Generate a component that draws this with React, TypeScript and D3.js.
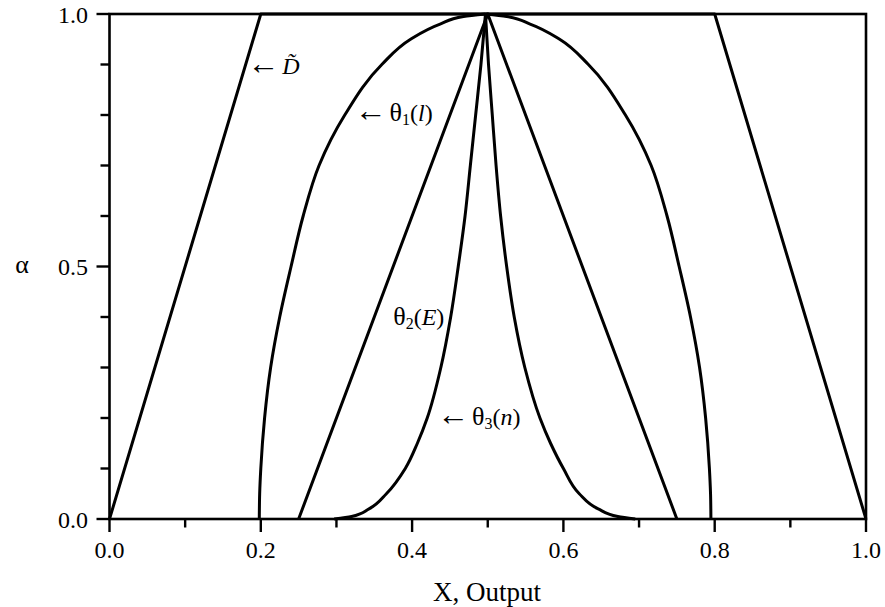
import * as d3 from "d3";

// membership levels (alpha) and output values
const dTildeX = [0, 0.2, 0.8, 1.0];
const dTildeA = [0, 1, 1, 0];

const levels = [0, 0.05, 0.1, 0.2, 0.3, 0.4, 0.5, 0.6, 0.7, 0.8, 0.9, 0.95, 0.98, 0.995, 1];
const theta1LeftX = [0.198, 0.1985, 0.2, 0.205, 0.213, 0.225, 0.24, 0.256, 0.277, 0.311, 0.36, 0.398, 0.437, 0.468, 0.497];
const theta1RightX = [0.795, 0.7945, 0.793, 0.788, 0.78, 0.768, 0.753, 0.737, 0.716, 0.682, 0.633, 0.595, 0.556, 0.525, 0.497];

const theta2X = [0.25, 0.5, 0.75];
const theta2A = [0, 1, 0];

const theta3A = [0, 0.005, 0.02, 0.05, 0.1, 0.15, 0.2, 0.3, 0.4, 0.5, 0.6, 0.7, 0.8, 0.9, 1];
const theta3LeftX = [0.297, 0.32, 0.343, 0.366, 0.391, 0.407, 0.42, 0.438, 0.451, 0.461, 0.47, 0.477, 0.484, 0.491, 0.497];
const theta3RightX = [0.695, 0.672, 0.646, 0.621, 0.6, 0.583, 0.569, 0.549, 0.535, 0.525, 0.517, 0.511, 0.506, 0.501, 0.497];

const xMajor = [0, 0.2, 0.4, 0.6, 0.8, 1.0];
const xMinor = [0.1, 0.3, 0.5, 0.7, 0.9];
const aMajor = [0, 0.5, 1.0];
const aMinor = [0.1, 0.2, 0.3, 0.4, 0.6, 0.7, 0.8, 0.9];

const W = 885;
const H = 607;
const FONT = "Liberation Serif";

const zip = (xs: number[], as: number[]) => xs.map((x, i) => [x, as[i]] as [number, number]);

export default function App() {
  const x = d3.scaleLinear().domain([0, 1]).range([109.5, 866]);
  const y = d3.scaleLinear().domain([0, 1]).range([519, 14]);

  const straight = d3.line<[number, number]>().x((d) => x(d[0])).y((d) => y(d[1]));
  const smooth = d3
    .line<[number, number]>()
    .x((d) => x(d[0]))
    .y((d) => y(d[1]))
    .curve(d3.curveMonotoneY);

  const curves = [
    straight(zip(dTildeX, dTildeA)),
    smooth(zip(theta1LeftX, levels)),
    smooth(zip(theta1RightX, levels)),
    straight(zip(theta2X, theta2A)),
    smooth(zip(theta3LeftX, theta3A)),
    smooth(zip(theta3RightX, theta3A)),
  ];

  const subSize = 16;
  const subDy = 4;
  const arrowSize = 32;
  const thetaSize = 26;

  return (
    <svg width={W} height={H} style={{ position: "absolute", left: 0, top: 0, background: "#fff" }}>
      <g fill="none" stroke="#000" strokeWidth={3} strokeLinejoin="round">
        {curves.map((d, i) => (
          <path key={i} d={d || ""} />
        ))}
      </g>

      {/* frame */}
      <rect x={x(0)} y={y(1)} width={x(1) - x(0)} height={y(0) - y(1)} fill="none" stroke="#000" strokeWidth={2.6} />

      {/* ticks */}
      <g stroke="#000" strokeWidth={2.4}>
        {xMajor.map((t) => (
          <line key={"xM" + t} x1={x(t)} x2={x(t)} y1={y(0)} y2={y(0) + 13} />
        ))}
        {xMinor.map((t) => (
          <line key={"xm" + t} x1={x(t)} x2={x(t)} y1={y(0)} y2={y(0) + 8.5} />
        ))}
        {aMajor.map((t) => (
          <line key={"aM" + t} x1={x(0)} x2={x(0) - 13} y1={y(t)} y2={y(t)} />
        ))}
        {aMinor.map((t) => (
          <line key={"am" + t} x1={x(0)} x2={x(0) - 9} y1={y(t)} y2={y(t)} />
        ))}
      </g>

      <g style={{ fontFamily: FONT }} fontSize={24} fill="#000">
        {xMajor.map((t) => (
          <text key={"xl" + t} x={x(t)} y={558} textAnchor="middle">
            {t.toFixed(1)}
          </text>
        ))}
        {aMajor.map((t) => (
          <text key={"al" + t} x={88} y={y(t) + 8.5} textAnchor="end">
            {t.toFixed(1)}
          </text>
        ))}
        <text x={487} y={601} textAnchor="middle" fontSize={27}>
          X, Output
        </text>
        <text x={22} y={273} textAnchor="middle" fontSize={26}>
          α
        </text>
      </g>

      {/* curve annotations */}
      <g style={{ fontFamily: FONT }} fontSize={24} fill="#000">
        <text x={x(0.182)} y={y(0.881)}>
          <tspan fontSize={arrowSize}>←</tspan>
          <tspan dx={3} fontStyle="italic">{"D\u0303"}</tspan>
        </text>
        <text x={x(0.324)} y={y(0.788)}>
          <tspan fontSize={arrowSize}>←</tspan>
          <tspan dx={3} fontSize={thetaSize}>θ</tspan>
          <tspan fontSize={subSize} dy={subDy}>1</tspan>
          <tspan dy={-subDy}>(</tspan>
          <tspan fontStyle="italic">l</tspan>
          <tspan>)</tspan>
        </text>
        <text x={x(0.375)} y={y(0.384)}>
          <tspan fontSize={thetaSize}>θ</tspan>
          <tspan fontSize={subSize} dy={subDy}>2</tspan>
          <tspan dy={-subDy}>(</tspan>
          <tspan fontStyle="italic">E</tspan>
          <tspan>)</tspan>
        </text>
        <text x={x(0.433)} y={y(0.186)}>
          <tspan fontSize={arrowSize}>←</tspan>
          <tspan dx={3} fontSize={thetaSize}>θ</tspan>
          <tspan fontSize={subSize} dy={subDy}>3</tspan>
          <tspan dy={-subDy}>(</tspan>
          <tspan fontStyle="italic">n</tspan>
          <tspan>)</tspan>
        </text>
      </g>
    </svg>
  );
}
